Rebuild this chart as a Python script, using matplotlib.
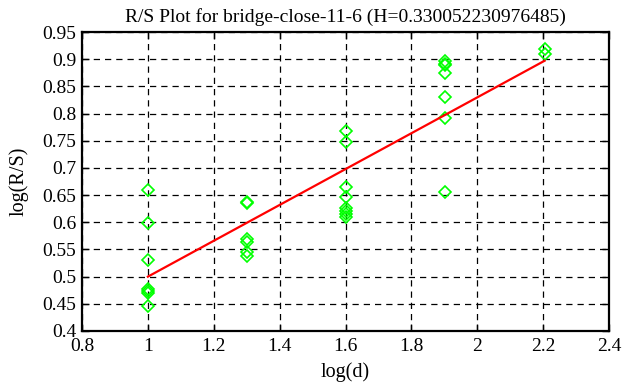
import numpy as np
import matplotlib
matplotlib.use('Agg')
import matplotlib.pyplot as plt

# log(d) for d = 10, 20, 40, 80, 160
log_d = [1.0, 1.30103, 1.60206, 1.90309, 2.20412]

# log(R/S) values, one list per window size
rs_10 = [0.659, 0.599, 0.530, 0.478, 0.473, 0.470, 0.445]
rs_20 = [0.638, 0.636, 0.569, 0.564, 0.546, 0.537]
rs_40 = [0.768, 0.747, 0.664, 0.647, 0.626, 0.621, 0.616, 0.610]
rs_80 = [0.896, 0.892, 0.889, 0.874, 0.830, 0.791, 0.656]
rs_160 = [0.919, 0.909]

H = 0.330052230976485
intercept = 0.1698

groups = [rs_10, rs_20, rs_40, rs_80, rs_160]

plt.rcParams['font.family'] = ['Liberation Serif', 'DejaVu Serif']

fig = plt.figure(figsize=(6.26, 3.87), dpi=100)
ax = fig.add_axes([0.131, 0.145, 0.842, 0.772])

xs = []
ys = []
for x, vals in zip(log_d, groups):
    xs += [x] * len(vals)
    ys += vals
ax.plot(xs, ys, linestyle='none', marker='D', markersize=6.5,
        markerfacecolor='none', markeredgecolor='#00ff00', markeredgewidth=1.2)

fit_x = np.array([log_d[0], log_d[-1]])
ax.plot(fit_x, intercept + H * fit_x, color='red', linewidth=1.6)

ax.set_xlim(0.8, 2.4)
ax.set_ylim(0.4, 0.95)
ax.set_xticks(np.arange(0.8, 2.41, 0.2))
ax.set_xticklabels(['0.8', '1', '1.2', '1.4', '1.6', '1.8', '2', '2.2', '2.4'])
ax.set_yticks(np.arange(0.4, 0.951, 0.05))
ax.set_yticklabels(['0.4', '0.45', '0.5', '0.55', '0.6', '0.65', '0.7',
                    '0.75', '0.8', '0.85', '0.9', '0.95'])
ax.grid(True, color='black', linestyle=(0, (5, 4)), linewidth=0.9)
ax.tick_params(direction='in', top=True, right=True, length=5, width=1,
               labelsize=14)
ax.tick_params(axis='x', pad=5)
ax.tick_params(axis='y', pad=4)
for s in ax.spines.values():
    s.set_linewidth(1.6)

ax.set_xlabel('log(d)', fontsize=14.5, labelpad=5)
ax.set_ylabel('log(R/S)', fontsize=14.5, labelpad=10)
ax.set_title('R/S Plot for bridge-close-11-6 (H=0.330052230976485)',
             fontsize=14, pad=7)

fig.savefig('out.png', dpi=100)
